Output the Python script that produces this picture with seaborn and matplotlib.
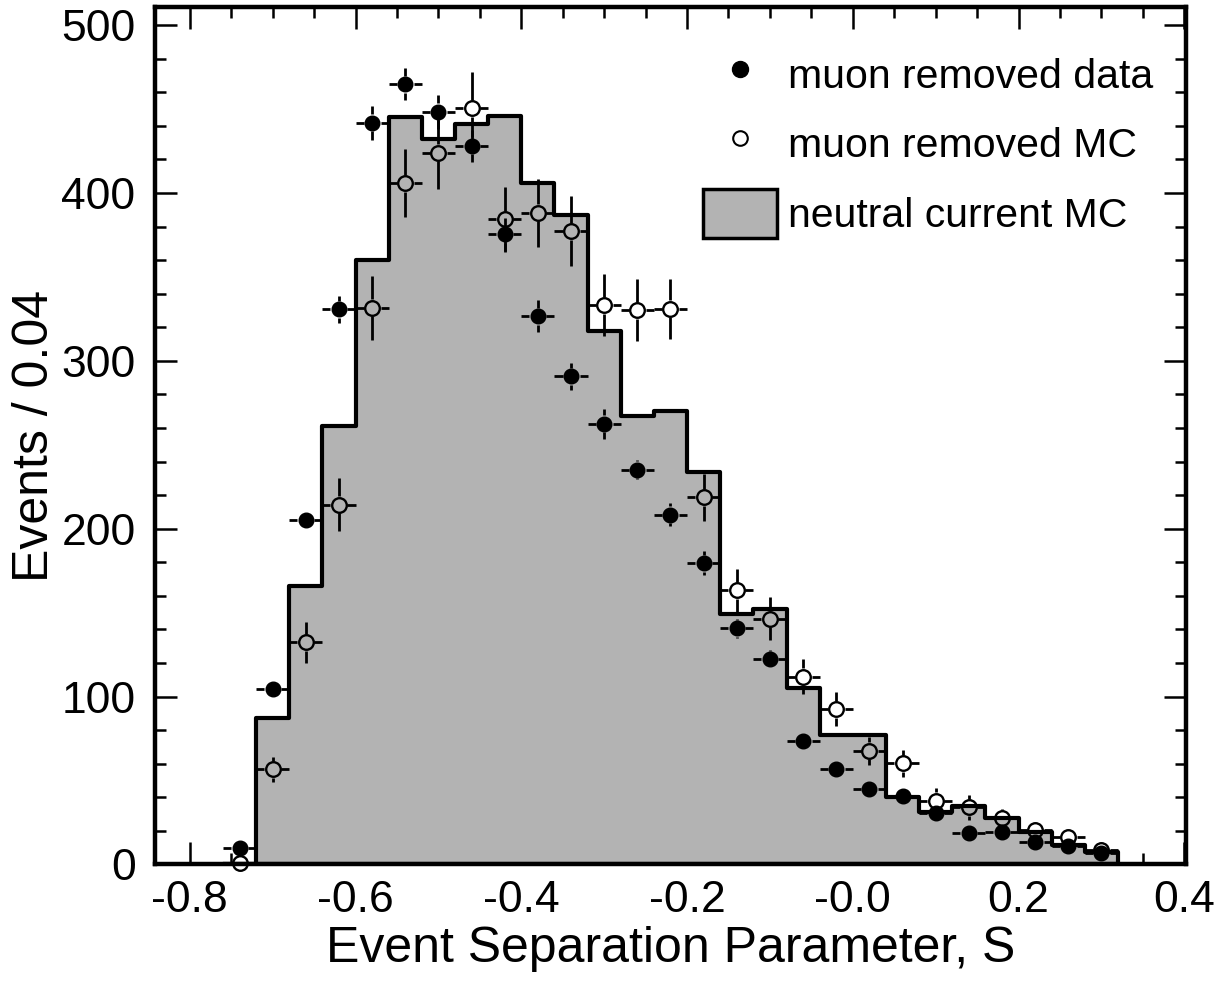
import numpy as np
import pandas as pd
import seaborn as sns
import matplotlib.pyplot as plt
from matplotlib.lines import Line2D
from matplotlib.patches import Patch
from matplotlib.ticker import MultipleLocator, FixedLocator, FixedFormatter

# bin centres of S, bin width 0.04
s_centres = [-0.74, -0.70, -0.66, -0.62, -0.58, -0.54, -0.50, -0.46, -0.42,
             -0.38, -0.34, -0.30, -0.26, -0.22, -0.18, -0.14, -0.10, -0.06,
             -0.02, 0.02, 0.06, 0.10, 0.14, 0.18, 0.22, 0.26, 0.30]

# neutral current MC histogram
nc_mc = [0, 87, 166, 261, 360, 445, 432, 441, 446,
         406, 387, 318, 267, 270, 234, 149, 152, 105,
         77, 77, 40, 31, 35, 27.5, 19.5, 11.6, 7.2]

# muon removed data
data_y = [9.6, 104.6, 205.4, 330.6, 441.9, 464.8, 448.3, 428.0, 375.3,
          326.6, 290.8, 262.4, 235.2, 208.3, 179.5, 140.6, 122.3, 73.2,
          56.9, 44.8, 40.8, 30.5, 18.5, 19.1, 13.5, 11.2, 6.6]
data_err = [3, 4.5, 5, 8.3, 10.1, 9.4, 9.9, 9.5, 10,
            9.5, 8.2, 8.7, 5.5, 7, 7, 5.5, 5.4, 4,
            3.5, 3, 3, 2.5, 2, 2, 2, 1.5, 1.5]

# muon removed MC
mc_y = [1.0, 56.7, 132.2, 214.3, 331.6, 405.7, 424.0, 450.4, 384.3,
        388.3, 377.3, 333.0, 330.2, 331.0, 218.7, 163.2, 146.3, 111.9,
        92.5, 67.7, 60.3, 37.8, 34.0, 27.5, 20.5, 16.2, 8.6]
mc_err = [1, 7.4, 12.3, 15.7, 19, 20.3, 21.5, 21.7, 19.5,
          20.3, 21, 18.5, 18.5, 17.7, 14.1, 13, 12.7, 10.3,
          10, 8.3, 8, 7.5, 7.3, 5.6, 5.5, 4.5, 3.5]

x_ticks = [-0.8, -0.6, -0.4, -0.2, 0.0, 0.2, 0.4]
x_tick_labels = ['-0.8', '-0.6', '-0.4', '-0.2', '-0.0', '0.2', '0.4']
y_ticks = [0, 100, 200, 300, 400, 500]

legend_labels = ['muon removed data', 'muon removed MC', 'neutral current MC']

GREY = '#b3b3b3'
HALF_BIN = 0.02
GAP_PX = 8.5

sns.set_theme(style='ticks')
plt.rcParams['font.family'] = ['Liberation Sans', 'DejaVu Sans']
plt.rcParams['axes.unicode_minus'] = False
for key in ['text.color', 'axes.labelcolor', 'xtick.color', 'ytick.color', 'axes.edgecolor']:
    plt.rcParams[key] = 'black'

fig = plt.figure(figsize=(12.3, 9.83), dpi=100)
ax = fig.add_axes([0.1260, 0.1207, 0.8382, 0.8725])

centres = np.array(s_centres)
edges = list(np.round(np.append(centres - HALF_BIN, centres[-1] + HALF_BIN), 4))
hist_df = pd.DataFrame({'S': centres, 'events': nc_mc})
sns.histplot(data=hist_df, x='S', weights='events', bins=edges, element='step',
             fill=True, color=GREY, alpha=1, edgecolor='black', linewidth=3.0, ax=ax)

ax.set_xlim(-0.842, 0.402)
ax.set_ylim(0, 511)

# gap between marker and error bars, in data units
fig.canvas.draw()
p0 = ax.transData.transform((0, 0))
p1 = ax.transData.transform((1, 1))
gx = GAP_PX / (p1[0] - p0[0])
gy = GAP_PX / (p1[1] - p0[1])


def draw_points(xs, ys, errs, filled):
    xs = np.asarray(xs)
    ys = np.asarray(ys)
    errs = np.asarray(errs)
    lw = 2.0
    ax.hlines(ys, xs - HALF_BIN, xs - gx, color='black', lw=lw, zorder=3)
    ax.hlines(ys, xs + gx, xs + HALF_BIN, color='black', lw=lw, zorder=3)
    big = errs > gy
    ax.vlines(xs[big], ys[big] + gy, ys[big] + errs[big], color='black', lw=lw, zorder=3)
    ax.vlines(xs[big], ys[big] - errs[big], ys[big] - gy, color='black', lw=lw, zorder=3)
    if filled:
        ax.plot(xs, ys, ls='none', marker='o', ms=10.5, color='black', zorder=4, clip_on=False)
    else:
        ax.plot(xs, ys, ls='none', marker='o', ms=10.5, mfc='none', mec='black',
                mew=1.7, zorder=4, clip_on=False)


draw_points(s_centres, mc_y, mc_err, filled=False)
draw_points(s_centres, data_y, data_err, filled=True)

ax.xaxis.set_major_locator(FixedLocator(x_ticks))
ax.xaxis.set_major_formatter(FixedFormatter(x_tick_labels))
ax.xaxis.set_minor_locator(MultipleLocator(0.05))
ax.yaxis.set_major_locator(FixedLocator(y_ticks))
ax.yaxis.set_minor_locator(MultipleLocator(20))
ax.tick_params(which='both', direction='in', top=True, right=True, width=1.8, labelsize=32)
ax.tick_params(which='major', length=16)
ax.tick_params(which='minor', length=8)
ax.tick_params(axis='x', pad=11)
ax.tick_params(axis='y', pad=14)
for sp in ax.spines.values():
    sp.set_linewidth(3.2)

ax.set_xlabel('Event Separation Parameter, S', fontsize=36)
ax.set_ylabel('Events / 0.04', fontsize=36)
ax.xaxis.set_label_coords(0.5, -0.072)
ax.yaxis.set_label_coords(-0.094, 0.5)

handles = [Line2D([], [], ls='none', marker='o', ms=11.5, color='black'),
           Line2D([], [], ls='none', marker='o', ms=10.5, mfc='white', mec='black', mew=1.5),
           Patch(facecolor=GREY, edgecolor='black', linewidth=2.5)]
ax.legend(handles, legend_labels, loc='upper left', bbox_to_anchor=(0.5315, 0.950),
          frameon=False, fontsize=29.5, handlelength=1.8, handleheight=1.47,
          handletextpad=0.27, labelspacing=0.5, borderpad=0, borderaxespad=0)

fig.savefig('out.png', dpi=100)
